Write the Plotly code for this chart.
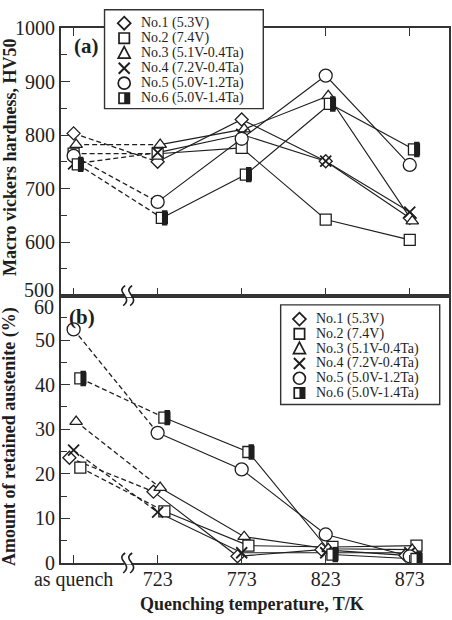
import plotly.graph_objects as go

# ---------------- data ----------------
categories = ["as quench", "723", "773", "823", "873"]
series_names = ["No.1 (5.3V)", "No.2 (7.4V)", "No.3 (5.1V-0.4Ta)",
                "No.4 (7.2V-0.4Ta)", "No.5 (5.0V-1.2Ta)", "No.6 (5.0V-1.4Ta)"]

# (a) Macro vickers hardness, HV50
hv_no1 = [803, 750, 829, 751, 645]
hv_no2 = [765, 765, 776, 642, 604]
hv_no3 = [782, 782, 811, 873, 639]
hv_no4 = [746, 767, 801, 751, 656]
hv_no5 = [761, 675, 793, 911, 744]
hv_no6 = [745, 645, 726, 858, 773]

# (b) Amount of retained austenite (%)
ra_no1 = [23.6, 16.0, 1.5, 3.0, 1.7]
ra_no2 = [21.4, 11.6, 3.9, 3.6, 3.9]
ra_no3 = [31.7, 16.9, 5.9, 3.2, 3.0]
ra_no4 = [25.3, 11.4, 2.3, 2.3, 2.3]
ra_no5 = [52.4, 29.2, 21.0, 6.4, 1.5]
ra_no6 = [41.4, 32.6, 24.9, 1.9, 0.9]

hv_ticks = [500, 600, 700, 800, 900, 1000]
ra_ticks = [0, 10, 20, 30, 40, 50, 60]

hardness = [hv_no1, hv_no2, hv_no3, hv_no4, hv_no5, hv_no6]
austenite = [ra_no1, ra_no2, ra_no3, ra_no4, ra_no5, ra_no6]

# ---------------- styles ----------------
FONT = "Liberation Serif"
INK = "#1e1e1e"
AX = "#333333"
symbols = ["diamond", "square", "triangle-up", "x-thin", "circle", "square"]
msizes = [10, 11, 11, 11, 13, 11]
offs_a = [0.0, 0.0, 0.03, 0.0, 0.0, 0.05]
offs_b = [-0.05, 0.08, 0.03, 0.0, 0.0, 0.08]

# pixel geometry helpers for decorations
L, R, T, B = 60.7, 452 - 449.3, 28.3, 620 - 563.5
W, H = 452 - L - R, 620 - T - B
def px(x):
    return (x - L) / W
def py(y):
    return (620 - B - y) / H

fig = go.Figure()
xidx = list(range(len(categories)))

def add_panel(data, offs, xa, ya):
    for i, vals in enumerate(data):
        xs = [j + offs[i] for j in xidx]
        fig.add_trace(go.Scatter(x=xs[:2], y=vals[:2], mode="lines",
                                 line=dict(color=INK, width=1.3, dash="5px,3px"),
                                 xaxis=xa, yaxis=ya, showlegend=False, hoverinfo="skip"))
        fig.add_trace(go.Scatter(x=xs[1:], y=vals[1:], mode="lines",
                                 line=dict(color=INK, width=1.1),
                                 xaxis=xa, yaxis=ya, showlegend=False, hoverinfo="skip"))
    for i, vals in enumerate(data):
        xs = [j + offs[i] for j in xidx]
        if symbols[i] == "x-thin":
            mk = dict(symbol="x-thin", size=msizes[i], line=dict(color=INK, width=1.8))
        else:
            mk = dict(symbol=symbols[i], size=msizes[i], color="white",
                      line=dict(color=INK, width=1.3))
        fig.add_trace(go.Scatter(x=xs, y=vals, mode="markers", marker=mk,
                                 name=series_names[i], xaxis=xa, yaxis=ya, showlegend=False))
        if i == 5:
            fig.add_trace(go.Scatter(x=[x + 0.034 for x in xs], y=vals, mode="markers",
                                     marker=dict(symbol="line-ns", size=11,
                                                 line=dict(color=INK, width=5.5)),
                                     xaxis=xa, yaxis=ya, showlegend=False, hoverinfo="skip"))

add_panel(hardness, offs_a, "x", "y")
add_panel(austenite, offs_b, "x2", "y2")

tickfont = dict(family=FONT, size=20, color=INK)
xcommon = dict(range=[-0.15, 4.467], tickmode="array", tickvals=xidx, ticktext=categories,
               ticks="inside", ticklen=8, tickwidth=1.3, tickcolor=AX,
               showline=True, linecolor=AX, linewidth=1.8, showgrid=False, zeroline=False,
               tickfont=tickfont)
ycommon = dict(ticks="inside", ticklen=9, tickwidth=1.3, tickcolor=AX, tickmode="array",
               showline=True, linecolor=AX, linewidth=1.8, mirror=True,
               showgrid=False, zeroline=False, tickfont=tickfont)

fig.update_layout(
    width=452, height=620, margin=dict(l=L, r=R, t=T, b=B),
    paper_bgcolor="white", plot_bgcolor="white",
    font=dict(family=FONT, color=INK),
    showlegend=False,
    xaxis=dict(xcommon, anchor="y", showticklabels=False, mirror="ticks"),
    xaxis2=dict(xcommon, anchor="y2", matches="x", mirror=True, ticklabelstandoff=-3),
    yaxis=dict(ycommon, domain=[0.5, 1], anchor="x", range=[500, 1000],
               tickvals=hv_ticks, ticktext=[""] + [str(v) for v in hv_ticks[1:]],
               minor=dict(ticks="inside", dtick=50, ticklen=6, tickwidth=1.3, tickcolor=AX)),
    yaxis2=dict(ycommon, domain=[0, 0.5], anchor="x2", range=[0, 60],
                tickvals=ra_ticks, ticktext=[str(v) for v in ra_ticks[:-1]] + [""],
                minor=dict(ticks="inside", dtick=5, ticklen=6, tickwidth=1.3, tickcolor=AX)),
)

# end tick labels nudged apart at the panel junction
fig.add_annotation(text=str(hv_ticks[0]), xref="paper", yref="paper", x=px(56), y=py(290),
                   xanchor="right", yanchor="middle", showarrow=False, font=tickfont)
fig.add_annotation(text=str(ra_ticks[-1]), xref="paper", yref="paper", x=px(56), y=py(307),
                   xanchor="right", yanchor="middle", showarrow=False, font=tickfont)

# legends (symbol drawn as shapes + label rows inside a framed box)
def sym_shapes(k, cx, cy):
    ln = dict(color=INK, width=1.7)
    s = []
    def poly(pts):
        d = "M " + " L ".join(f"{px(a)} {py(b)}" for a, b in pts) + " Z"
        return dict(type="path", path=d, line=ln, fillcolor="white")
    if k == 0:
        s.append(poly([(cx, cy - 6.5), (cx + 6.5, cy), (cx, cy + 6.5), (cx - 6.5, cy)]))
    elif k == 1:
        s.append(dict(type="rect", x0=px(cx - 5.2), x1=px(cx + 5.2), y0=py(cy + 5.2),
                      y1=py(cy - 5.2), line=ln, fillcolor="white"))
    elif k == 2:
        s.append(poly([(cx, cy - 6.5), (cx + 6, cy + 5), (cx - 6, cy + 5)]))
    elif k == 3:
        s.append(dict(type="line", x0=px(cx - 5.5), x1=px(cx + 5.5), y0=py(cy - 5.5),
                      y1=py(cy + 5.5), line=dict(color=INK, width=2)))
        s.append(dict(type="line", x0=px(cx - 5.5), x1=px(cx + 5.5), y0=py(cy + 5.5),
                      y1=py(cy - 5.5), line=dict(color=INK, width=2)))
    elif k == 4:
        s.append(dict(type="circle", x0=px(cx - 6), x1=px(cx + 6), y0=py(cy + 6),
                      y1=py(cy - 6), line=ln, fillcolor="white"))
    else:
        s.append(dict(type="rect", x0=px(cx - 5.2), x1=px(cx + 5.2), y0=py(cy + 5.2),
                      y1=py(cy - 5.2), line=ln, fillcolor="white"))
        s.append(dict(type="rect", x0=px(cx), x1=px(cx + 5.2), y0=py(cy + 5.2),
                      y1=py(cy - 5.2), line=dict(width=0), fillcolor=INK))
    for d in s:
        d.update(xref="paper", yref="paper", layer="above")
        fig.add_shape(**d)

def add_legend(box, sym_x, txt_x, row0, step):
    x0, y0, x1, y1 = box
    fig.add_shape(type="rect", xref="paper", yref="paper",
                  x0=px(x0), x1=px(x1), y0=py(y1), y1=py(y0),
                  fillcolor="white", line=dict(color=AX, width=1.4), layer="above")
    for k, name in enumerate(series_names):
        yy = row0 + k * step
        sym_shapes(k, sym_x, yy)
        fig.add_annotation(text=name, xref="paper", yref="paper", x=px(txt_x), y=py(yy),
                           xanchor="left", yanchor="middle", showarrow=False,
                           font=dict(family=FONT, size=14, color=INK))

add_legend((104.3, 10, 263.3, 109), 124, 138.5, 23.5, 15)
add_legend((280.7, 305.3, 440, 405), 299.5, 314.5, 319.5, 14.8)

ann_font = dict(family=FONT, size=18, color=INK)
fig.add_annotation(text="<b>Macro vickers hardness, HV50</b>", xref="paper", yref="paper",
                   x=px(9), y=py(157), textangle=-90, showarrow=False, font=ann_font,
                   xanchor="center", yanchor="middle")
fig.add_annotation(text="<b>Amount of retained austenite (%)</b>", xref="paper", yref="paper",
                   x=px(9), y=py(437), textangle=-90, showarrow=False, font=ann_font,
                   xanchor="center", yanchor="middle")
fig.add_annotation(text="<b>Quenching temperature, T/K</b>", xref="paper", yref="paper",
                   x=px(252), y=py(605), showarrow=False, font=ann_font,
                   xanchor="center", yanchor="middle")
fig.add_annotation(text="<b>(a)</b>", xref="paper", yref="paper", x=px(86), y=py(46),
                   showarrow=False, font=dict(family=FONT, size=21, color=INK),
                   xanchor="center", yanchor="middle")
fig.add_annotation(text="<b>(b)</b>", xref="paper", yref="paper", x=px(82), y=py(317),
                   showarrow=False, font=dict(family=FONT, size=21, color=INK),
                   xanchor="center", yanchor="middle")

# axis-break marks
for cy in (296, 563.5):
    cx = 127.5
    fig.add_shape(type="rect", xref="paper", yref="paper",
                  x0=px(cx - 3.5), x1=px(cx + 3.5), y0=py(cy + 1.5), y1=py(cy - 1.5),
                  fillcolor="white", line=dict(width=0), layer="above")
    for dx in (-3.5, 3.5):
        x0 = cx + dx
        path = (f"M {px(x0 + 1)} {py(cy - 10)} "
                f"C {px(x0 - 10)} {py(cy - 3)}, {px(x0 + 10)} {py(cy + 1)}, {px(x0 - 1)} {py(cy + 10)}")
        fig.add_shape(type="path", xref="paper", yref="paper", path=path,
                      line=dict(color=INK, width=1.6), layer="above")

fig.write_html("out.html")
